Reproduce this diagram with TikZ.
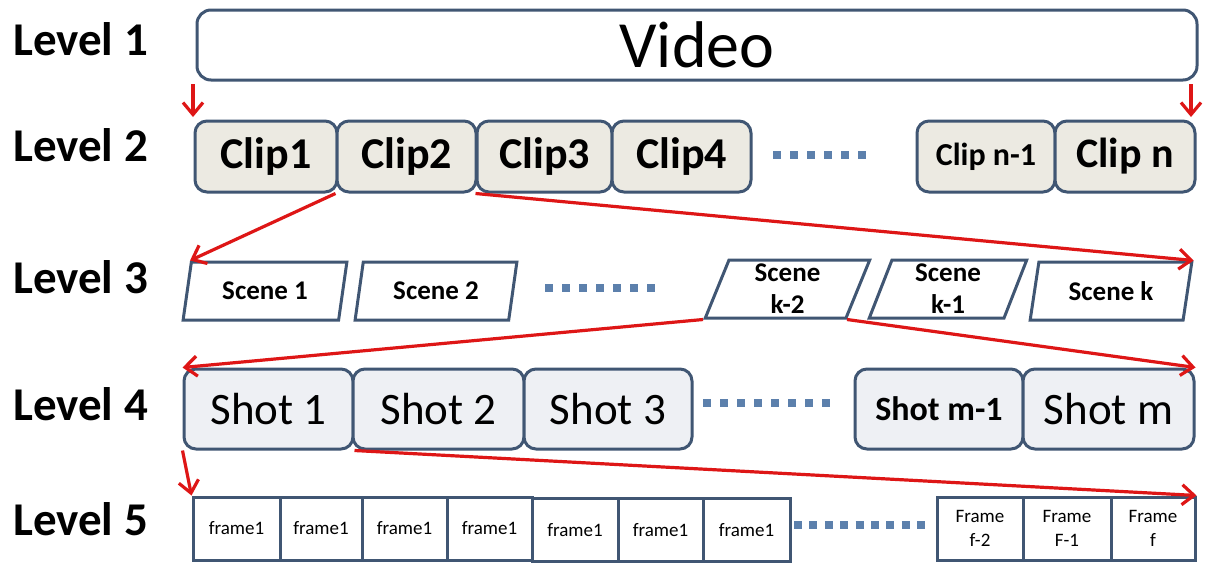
\documentclass[tikz,border=0pt]{standalone}
\usepackage{fontspec}
\setmainfont{Carlito}
\usetikzlibrary{arrows.meta,shapes.geometric}
\definecolor{bord}{RGB}{64,86,115}
\definecolor{clipfill}{RGB}{236,234,226}
\definecolor{shotfill}{RGB}{238,240,244}
\definecolor{arr}{RGB}{222,22,22}
\definecolor{dotc}{RGB}{92,128,172}
\begin{document}
\begin{tikzpicture}[x=1pt,y=-1pt,
 lvl/.style={anchor=base west, inner sep=0pt, font=\fontsize{47}{50}\selectfont\bfseries},
 rbox/.style={draw=bord, line width=3pt, rounded corners=12pt, inner sep=0pt, align=center},
 clipbox/.style={rbox, fill=clipfill, minimum height=71pt, font=\fontsize{44}{48}\selectfont\bfseries},
 shotbox/.style={rbox, fill=shotfill, minimum height=80pt, font=\fontsize{45}{50}\selectfont},
 scenebox/.style={trapezium, trapezium left angle=75, trapezium right angle=105, trapezium stretches=true, draw=bord, line width=3pt, fill=white, minimum height=58pt, inner sep=0pt, align=center, font=\fontsize{27}{32}\selectfont\bfseries},
 framebox/.style={draw=bord, line width=3pt, fill=white, minimum height=63pt, inner sep=0pt, align=center, font=\fontsize{19}{24}\selectfont},
 dotline/.style={draw=dotc, line width=8pt, dash pattern=on 8pt off 9pt},
 redarr/.style={draw=arr, line width=3.2pt, -{Straight Barb[length=12pt,width=20pt]}}
]
\useasboundingbox[fill=white] (0,0) rectangle (1210,563);

% level labels
\node[lvl] (l1) at (13,55) {Level 1};
\node[lvl] (l2) at (13,161) {Level 2};
\node[lvl] (l3) at (13,293) {Level 3};
\node[lvl] (l4) at (13,420) {Level 4};
\node[lvl] (l5) at (13,535) {Level 5};

% level 1
\node[rbox, rounded corners=14pt, minimum width=1000pt, minimum height=70pt, font=\fontsize{66}{70}\selectfont] (video) at (697,45) {Video};

% level 2
\node[clipbox, minimum width=142pt] (c1) at (266,156.5) {Clip1};
\node[clipbox, minimum width=139pt] (c2) at (406.5,156.5) {Clip2};
\node[clipbox, minimum width=135pt] (c3) at (544.5,156.5) {Clip3};
\node[clipbox, minimum width=139pt] (c4) at (681.5,156.5) {Clip4};
\node[clipbox, minimum width=138pt, font=\fontsize{32}{36}\selectfont\bfseries] (cn1) at (986,156.5) {Clip n-1};
\node[clipbox, minimum width=140pt, font=\fontsize{42}{46}\selectfont\bfseries] (cn) at (1125,156.5) {Clip n};
\coordinate (cd1) at (773,155);
\coordinate (cd2) at (871,155);
\draw[dotline] (cd1) -- (cd2);

% level 3
\node[scenebox, minimum width=164pt] (s1) at (265,291) {Scene 1};
\node[scenebox, minimum width=162pt] (s2) at (436,291) {Scene 2};
\node[scenebox, minimum width=165pt] (sk2) at (787.5,289) {Scene\\k-2};
\node[scenebox, minimum width=158pt] (sk1) at (948,289) {Scene\\k-1};
\node[scenebox, minimum width=162pt] (sk) at (1111,291) {Scene k};
\coordinate (sd1) at (545,288);
\coordinate (sd2) at (660,288);
\draw[dotline] (sd1) -- (sd2);

% level 4
\node[shotbox, minimum width=169pt] (h1) at (268.5,409) {Shot 1};
\node[shotbox, minimum width=171pt] (h2) at (438.5,409) {Shot 2};
\node[shotbox, minimum width=168pt] (h3) at (608,409) {Shot 3};
\node[shotbox, minimum width=168pt, font=\fontsize{34}{38}\selectfont\bfseries] (hm1) at (939,409) {Shot m-1};
\node[shotbox, minimum width=171pt] (hm) at (1108.5,409) {Shot m};
\coordinate (hd1) at (703,403);
\coordinate (hd2) at (831,403);
\draw[dotline] (hd1) -- (hd2);

% level 5
\node[framebox, minimum width=87pt] (f1) at (236.5,528.5) {frame1};
\node[framebox, minimum width=82pt] (f2) at (321,528.5) {frame1};
\node[framebox, minimum width=85pt] (f3) at (404.5,528.5) {frame1};
\node[framebox, minimum width=85pt] (f4) at (489.5,528.5) {frame1};
\node[framebox, minimum width=86pt] (f5) at (575,530) {frame1};
\node[framebox, minimum width=85pt] (f6) at (660.5,530) {frame1};
\node[framebox, minimum width=87pt] (f7) at (746.5,530) {frame1};
\node[framebox, minimum width=86pt] (ff2) at (980,528.5) {Frame\\f-2};
\node[framebox, minimum width=88pt] (ff1) at (1067,528.5) {Frame\\F-1};
\node[framebox, minimum width=84pt] (ff) at (1153,528.5) {Frame\\f};
\coordinate (fd1) at (794,525);
\coordinate (fd2) at (925,525);
\draw[dotline, dash pattern=on 8pt off 7.4pt] (fd1) -- (fd2);

% arrows
\coordinate (v1a) at (193,84);
\coordinate (v1b) at (193,117);
\coordinate (v2a) at (1191,84);
\coordinate (v2b) at (1191,117);
\draw[redarr] (v1a) -- (v1b);
\draw[redarr] (v2a) -- (v2b);
\draw[redarr] (c2.south west) -- (s1.top left corner);
\draw[redarr] (c3.south west) -- (sk.top right corner);
\draw[redarr] (sk2.bottom left corner) -- (h1.north west);
\draw[redarr] (sk2.bottom right corner) -- (hm.north east);
\draw[redarr] (h1.south west) -- (f1.north west);
\draw[redarr] (h1.south east) -- (ff.north east);
\end{tikzpicture}
\end{document}
